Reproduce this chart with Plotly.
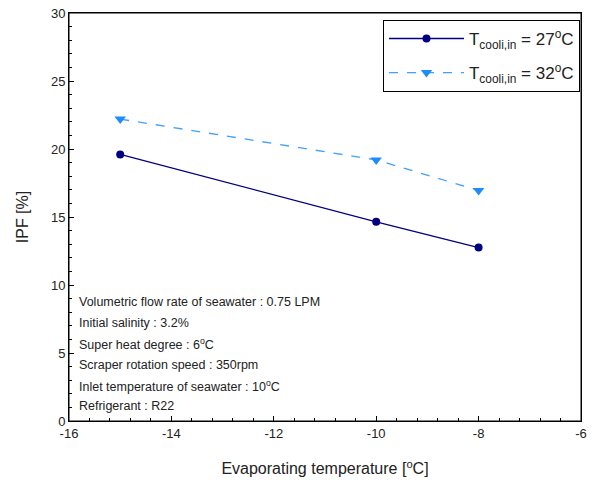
import plotly.graph_objects as go

temps = [-15, -10, -8]
ipf_27 = [19.6, 14.65, 12.75]
ipf_32 = [22.2, 19.2, 16.95]
names = ["T<sub>cooli,in</sub> = 27<sup>o</sup>C", "T<sub>cooli,in</sub> = 32<sup>o</sup>C"]
x_ticks = [-16, -14, -12, -10, -8, -6]
x_tick_labels = ["-16", "-14", "-12", "-10", "-8", "-6"]
notes = [
    "Volumetric flow rate of seawater : 0.75 LPM",
    "Initial salinity : 3.2%",
    "Super heat degree : 6<sup>o</sup>C",
    "Scraper rotation speed : 350rpm",
    "Inlet temperature of seawater : 10<sup>o</sup>C",
    "Refrigerant : R22",
]

W, H = 594, 489
L, R, T, B = 69, 13, 13, 68
ph = H - T - B
FONT = "Liberation Sans, Arial"

fig = go.Figure()
fig.add_trace(go.Scatter(x=temps, y=ipf_27, name=names[0], mode="lines+markers",
                         legendgroup="a",
                         line=dict(color="#000080", width=1.3),
                         marker=dict(symbol="circle", size=8, color="#000080")))
fig.add_trace(go.Scatter(x=temps, y=ipf_32, name=names[1], mode="lines+markers",
                         legendgroup="b",
                         line=dict(color="#3FA0FF", width=1.3, dash="dash"),
                         marker=dict(symbol="triangle-down", size=10, color="#1E8CFF")))

note_y_px = [302, 323, 344, 365, 386, 406]
for txt, yp in zip(notes, note_y_px):
    fig.add_annotation(text=txt, xref="paper", yref="paper", x=(77 - L) / (W - L - R),
                       y=1 - (yp - T) / ph, xanchor="left", yanchor="middle", showarrow=False,
                       font=dict(family=FONT, size=12.5, color="#222"))

# plot frame
fig.add_shape(type="rect", xref="paper", yref="paper", x0=0, x1=1, y0=0, y1=1,
              line=dict(color="black", width=1), layer="above")

axis_common = dict(showline=True, linecolor="black", linewidth=1, mirror=True, automargin=False,
                   ticks="inside", ticklen=5, tickcolor="black", showgrid=False, zeroline=False,
                   ticklabeloverflow="allow",
                   tickfont=dict(family=FONT, size=13, color="#222"))

fig.update_xaxes(range=[-16, -6], tickvals=x_ticks, ticktext=x_tick_labels,
                 minor=dict(dtick=0.4, tick0=-16, ticks="inside", ticklen=3, tickcolor="black"),
                 title=dict(text="Evaporating temperature [<sup>o</sup>C]", standoff=23,
                            font=dict(family=FONT, size=16, color="#222")),
                 **axis_common)
fig.update_yaxes(range=[0, 30], dtick=5,
                 minor=dict(dtick=1, ticks="inside", ticklen=3, tickcolor="black"),
                 title=dict(text="IPF [%]", standoff=18,
                            font=dict(family=FONT, size=16, color="#222")),
                 **axis_common)

fig.update_layout(
    width=W, height=H, margin=dict(l=L, r=R, t=T, b=B),
    plot_bgcolor="white", paper_bgcolor="white",
    legend=dict(x=0.998, y=0.983, xanchor="right", yanchor="top",
                bordercolor="black", borderwidth=1, bgcolor="white",
                font=dict(family=FONT, size=17, color="#222"),
                itemwidth=75, traceorder="grouped", tracegroupgap=9),
    showlegend=True,
)

fig.write_html("out.html", config={"displayModeBar": False},
               post_script="document.body.style.margin='0';")
